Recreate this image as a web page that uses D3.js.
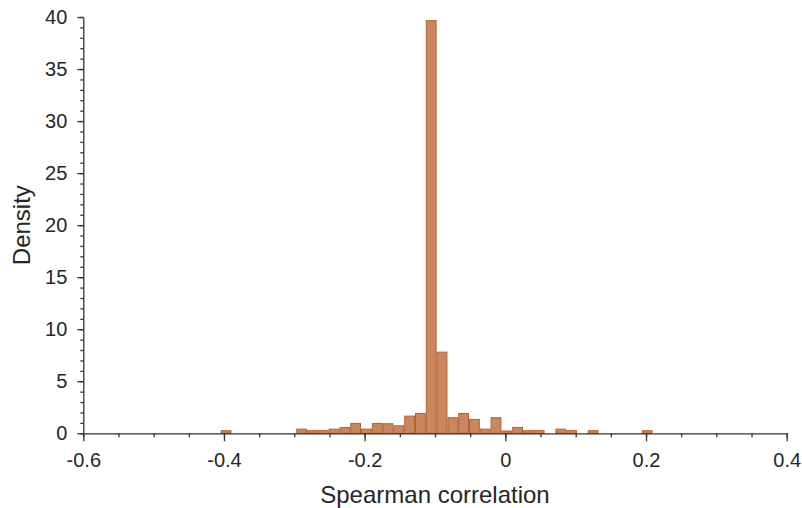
<!DOCTYPE html>
<html>
<head>
<meta charset="utf-8">
<script src="https://cdn.jsdelivr.net/npm/d3@7"></script>
<style>
  html, body { margin: 0; padding: 0; background: #fff; }
  svg { display: block; font-family: "Liberation Sans", Arial, Helvetica, sans-serif; }
  .axis path, .axis line { stroke: #333; stroke-width: 1.3px; }
  .axis text { fill: #262626; font-size: 20px; }
</style>
</head>
<body>
<svg id="chart" width="802" height="508"></svg>
<script>
// Histogram of Spearman correlations: 40 equal-width bins
const binStart = -0.4047;
const binWidth = 0.01535;
const density = [
  0.25, 0, 0, 0, 0, 0, 0, 0.4, 0.25, 0.25,
  0.4, 0.55, 0.95, 0.4, 0.95, 0.92, 0.72, 1.65, 1.9, 39.65,
  7.8, 1.5, 1.9, 1.33, 0.4, 1.5, 0.22, 0.57, 0.25, 0.25,
  0, 0.4, 0.25, 0, 0.25, 0, 0, 0, 0, 0.25
];

const xMajorTicks = [-0.6, -0.4, -0.2, 0, 0.2, 0.4];
const xTickLabels = ["-0.6", "-0.4", "-0.2", "0", "0.2", "0.4"];
const xMinorTicks = d3.range(-0.6, 0.4001, 0.05).map(v => +v.toFixed(2));
const yMajorTicks = [0, 5, 10, 15, 20, 25, 30, 35, 40];
const yMinorTicks = d3.range(0, 41, 1);

const xTitle = "Spearman correlation";
const yTitle = "Density";

const bins = density.map((d, i) => ({
  x0: binStart + i * binWidth,
  x1: binStart + (i + 1) * binWidth,
  density: d
}));

const svg = d3.select("#chart");
const plotLeft = 83.3, plotRight = 786.7, plotTop = 17, plotBottom = 433.3;

const x = d3.scaleLinear().domain([-0.6, 0.4]).range([plotLeft, plotRight]);
const y = d3.scaleLinear().domain([0, 40]).range([plotBottom, plotTop]);

// bars
svg.append("g")
  .selectAll("rect")
  .data(bins.filter(b => b.density > 0))
  .join("rect")
  .attr("x", b => x(b.x0) + 0.5)
  .attr("width", b => x(b.x1) - x(b.x0) - 1)
  .attr("y", b => y(b.density))
  .attr("height", b => y(0) - y(b.density))
  .attr("fill", "#c9875f")
  .attr("stroke", "#b5612e")
  .attr("stroke-width", 1);

// x axis: minor then major ticks
svg.append("g")
  .attr("class", "axis")
  .attr("transform", `translate(0,${plotBottom})`)
  .call(d3.axisBottom(x).tickValues(xMinorTicks).tickSize(4).tickSizeOuter(0).tickFormat(""))
  .call(g => g.select(".domain").remove());

svg.append("g")
  .attr("class", "axis")
  .attr("transform", `translate(0,${plotBottom})`)
  .call(d3.axisBottom(x).tickValues(xMajorTicks).tickSize(8).tickSizeOuter(0)
    .tickPadding(12).tickFormat((d, i) => xTickLabels[i]));

// y axis: minor then major ticks
svg.append("g")
  .attr("class", "axis")
  .attr("transform", `translate(${plotLeft},0)`)
  .call(d3.axisLeft(y).tickValues(yMinorTicks).tickSize(3).tickSizeOuter(0).tickFormat(""))
  .call(g => g.select(".domain").remove());

svg.append("g")
  .attr("class", "axis")
  .attr("transform", `translate(${plotLeft},0)`)
  .call(d3.axisLeft(y).tickValues(yMajorTicks).tickSize(6).tickSizeOuter(0)
    .tickPadding(10).tickFormat(d3.format("d")));

// axis titles
svg.append("text")
  .attr("x", (plotLeft + plotRight) / 2)
  .attr("y", 503)
  .attr("text-anchor", "middle")
  .attr("font-size", 24)
  .attr("fill", "#262626")
  .text(xTitle);

svg.append("text")
  .attr("transform", `translate(30,${(plotTop + plotBottom) / 2}) rotate(-90)`)
  .attr("text-anchor", "middle")
  .attr("font-size", 24)
  .attr("fill", "#262626")
  .text(yTitle);
</script>
</body>
</html>
